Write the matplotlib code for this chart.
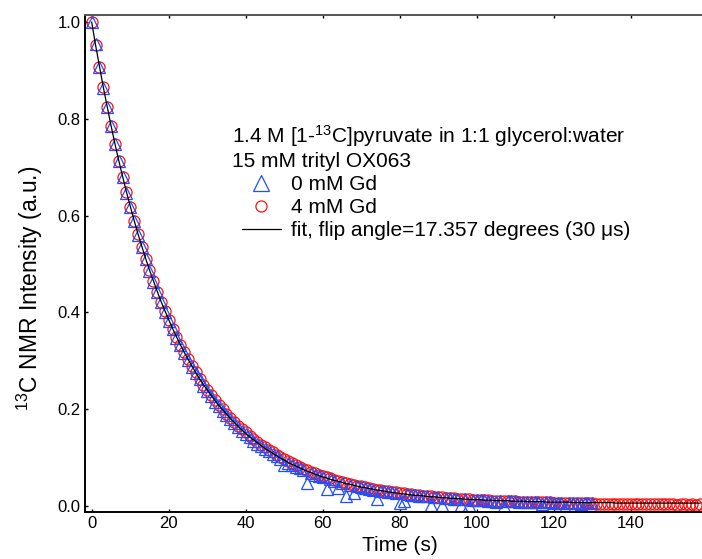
import numpy as np
import matplotlib
matplotlib.use("Agg")
import matplotlib.pyplot as plt
from matplotlib.lines import Line2D

plt.rcParams['font.family'] = ['Liberation Sans', 'DejaVu Sans']
plt.rcParams['mathtext.fontset'] = 'custom'
plt.rcParams['mathtext.rm'] = 'Liberation Sans'
plt.rcParams['mathtext.it'] = 'Liberation Sans'

# time points (s), one sample per second
t_gd0 = list(range(0, 131))
t_gd4 = list(range(0, 159))
t_fit = list(range(0, 159))

# 0 mM Gd (triangles)
y_gd0 = [
    1.000, 0.955, 0.908, 0.865, 0.825, 0.786, 0.749, 0.713, 0.680, 0.648,
    0.618, 0.589, 0.561, 0.535, 0.510, 0.486, 0.464, 0.442, 0.421, 0.402,
    0.383, 0.365, 0.348, 0.332, 0.316, 0.302, 0.288, 0.274, 0.262, 0.249,
    0.238, 0.227, 0.216, 0.206, 0.197, 0.188, 0.179, 0.171, 0.163, 0.156,
    0.148, 0.142, 0.135, 0.129, 0.123, 0.118, 0.113, 0.108, 0.103, 0.098,
    0.085, 0.089, 0.085, 0.081, 0.078, 0.074, 0.048, 0.068, 0.065, 0.062,
    0.059, 0.035, 0.055, 0.052, 0.037, 0.048, 0.021, 0.044, 0.026, 0.041,
    0.039, 0.037, 0.036, 0.034, 0.014, 0.032, 0.030, 0.029, 0.028, 0.027,
    0.007, 0.010, 0.024, 0.023, 0.022, 0.021, 0.020, 0.020, 0.002, 0.019,
    0.018, 0.002, 0.017, 0.016, 0.015, 0.015, 0.003, 0.014, 0.003, 0.013,
    0.013, 0.012, 0.012, 0.011, 0.011, 0.008, 0.011, 0.000, 0.010, 0.010,
    0.010, 0.009, 0.009, 0.009, 0.009, 0.008, 0.008, 0.004, 0.008, 0.008,
    0.007, 0.007, 0.007, -0.002, 0.007, 0.006, 0.006, 0.004, 0.006, 0.006,
    0.006,
]

# 4 mM Gd (circles)
y_gd4 = [
    1.000, 0.952, 0.907, 0.866, 0.824, 0.786, 0.749, 0.714, 0.681, 0.649,
    0.619, 0.590, 0.562, 0.536, 0.511, 0.487, 0.465, 0.443, 0.422, 0.403,
    0.384, 0.366, 0.349, 0.333, 0.318, 0.303, 0.289, 0.276, 0.263, 0.251,
    0.240, 0.229, 0.219, 0.209, 0.200, 0.191, 0.182, 0.174, 0.166, 0.159,
    0.152, 0.145, 0.139, 0.133, 0.127, 0.121, 0.116, 0.111, 0.106, 0.101,
    0.097, 0.092, 0.088, 0.085, 0.081, 0.077, 0.074, 0.071, 0.068, 0.065,
    0.062, 0.059, 0.057, 0.054, 0.052, 0.050, 0.048, 0.046, 0.044, 0.042,
    0.041, 0.039, 0.037, 0.036, 0.034, 0.033, 0.032, 0.030, 0.029, 0.028,
    0.027, 0.026, 0.025, 0.024, 0.023, 0.022, 0.021, 0.021, 0.020, 0.019,
    0.018, 0.018, 0.017, 0.016, 0.016, 0.015, 0.015, 0.014, 0.014, 0.013,
    0.013, 0.013, 0.012, 0.012, 0.011, 0.011, 0.011, 0.010, 0.010, 0.010,
    0.010, 0.009, 0.009, 0.009, 0.009, 0.008, 0.008, 0.008, 0.008, 0.008,
    0.007, 0.007, 0.007, 0.007, 0.007, 0.006, 0.006, 0.006, 0.006, 0.006,
    0.006, 0.005, 0.005, 0.005, 0.005, 0.005, 0.005, 0.005, 0.005, 0.004,
    0.004, 0.004, 0.004, 0.004, 0.004, 0.004, 0.004, 0.004, 0.004, 0.004,
    0.004, 0.004, 0.003, 0.004, 0.004, 0.003, 0.004, 0.003, 0.004,
]

# fit curve
y_fit = [
    1.000, 0.953, 0.909, 0.866, 0.826, 0.787, 0.750, 0.715, 0.682, 0.650,
    0.620, 0.591, 0.563, 0.537, 0.512, 0.488, 0.466, 0.444, 0.423, 0.404,
    0.385, 0.367, 0.350, 0.334, 0.318, 0.304, 0.290, 0.276, 0.263, 0.251,
    0.240, 0.229, 0.218, 0.208, 0.199, 0.190, 0.181, 0.173, 0.165, 0.157,
    0.150, 0.143, 0.137, 0.131, 0.125, 0.119, 0.114, 0.109, 0.104, 0.099,
    0.095, 0.090, 0.086, 0.083, 0.079, 0.075, 0.072, 0.069, 0.066, 0.063,
    0.060, 0.058, 0.055, 0.053, 0.051, 0.049, 0.046, 0.045, 0.043, 0.041,
    0.039, 0.038, 0.036, 0.035, 0.033, 0.032, 0.031, 0.029, 0.028, 0.027,
    0.026, 0.025, 0.024, 0.023, 0.022, 0.022, 0.021, 0.020, 0.019, 0.019,
    0.018, 0.017, 0.017, 0.016, 0.016, 0.015, 0.015, 0.014, 0.014, 0.013,
    0.013, 0.013, 0.012, 0.012, 0.012, 0.011, 0.011, 0.011, 0.011, 0.010,
    0.010, 0.010, 0.010, 0.009, 0.009, 0.009, 0.009, 0.009, 0.008, 0.008,
    0.008, 0.008, 0.008, 0.008, 0.008, 0.007, 0.007, 0.007, 0.007, 0.007,
    0.007, 0.007, 0.007, 0.007, 0.007, 0.007, 0.006, 0.006, 0.006, 0.006,
    0.006, 0.006, 0.006, 0.006, 0.006, 0.006, 0.006, 0.006, 0.006, 0.006,
    0.006, 0.006, 0.006, 0.006, 0.006, 0.006, 0.006, 0.006, 0.006,
]

blue = '#1f4fff'
red = '#ff1010'

fig = plt.figure(figsize=(7.02, 5.59), dpi=100)
ax = fig.add_axes([85/702, 1 - 512/559, 617/702, 497/559])

ax.plot(t_gd4, y_gd4, linestyle='none', marker='o', markersize=8,
        markerfacecolor='none', markeredgecolor=red, markeredgewidth=0.9)
ax.plot(t_gd0, y_gd0, linestyle='none', marker='^', markersize=8.5,
        markerfacecolor='none', markeredgecolor=blue, markeredgewidth=0.9)
ax.plot(t_fit, y_fit, color='black', linewidth=0.9)

ax.set_xlim(-1.74, 158.5)
ax.set_ylim(-0.0124, 1.0149)
ax.set_xticks([0, 20, 40, 60, 80, 100, 120, 140])
ax.set_yticks([0.0, 0.2, 0.4, 0.6, 0.8, 1.0])
ax.set_yticklabels(['0.0', '0.2', '0.4', '0.6', '0.8', '1.0'])
ax.tick_params(direction='in', length=2.5, width=1, labelsize=12,
               top=True, right=False, pad=3)

ax.spines['right'].set_visible(False)
ax.spines['left'].set_linewidth(1.4)
ax.spines['bottom'].set_linewidth(1.4)
ax.spines['top'].set_linewidth(1.4)
ax.spines['top'].set_color('#555555')

ax.set_xlabel('Time (s)', fontsize=15)
ax.xaxis.set_label_coords(0.51, -0.048)
ax.set_ylabel(r'$^{13}$C NMR Intensity (a.u.)', fontsize=16.5)
ax.yaxis.set_label_coords((45 - 85) / 617, 0.45)

fig.text(232/702, 1 - 142.7/559,
         r'1.4 M [1-$^{13}$C]pyruvate in 1:1 glycerol:water', fontsize=15,
         va='baseline', ha='left')
fig.text(232/702, 1 - 166.7/559, '15 mM trityl OX063', fontsize=15,
         va='baseline', ha='left')

handles = [
    Line2D([], [], linestyle='none', marker='^', markersize=11,
           markerfacecolor='none', markeredgecolor=blue, markeredgewidth=0.9),
    Line2D([], [], linestyle='none', marker='o', markersize=8,
           markerfacecolor='none', markeredgecolor=red, markeredgewidth=0.9),
    Line2D([], [], color='black', linewidth=0.9),
]
labels = ['0 mM Gd', '4 mM Gd', 'fit, flip angle=17.357 degrees (30 \u03bcs)']
ax.legend(handles, labels, loc='upper left',
          bbox_to_anchor=(242/702, 1 - 175/559), bbox_transform=fig.transFigure,
          frameon=False, fontsize=15, borderpad=0, borderaxespad=0,
          handlelength=1.85, handletextpad=0.5, labelspacing=0.2)

fig.savefig('out.png', dpi=100)
